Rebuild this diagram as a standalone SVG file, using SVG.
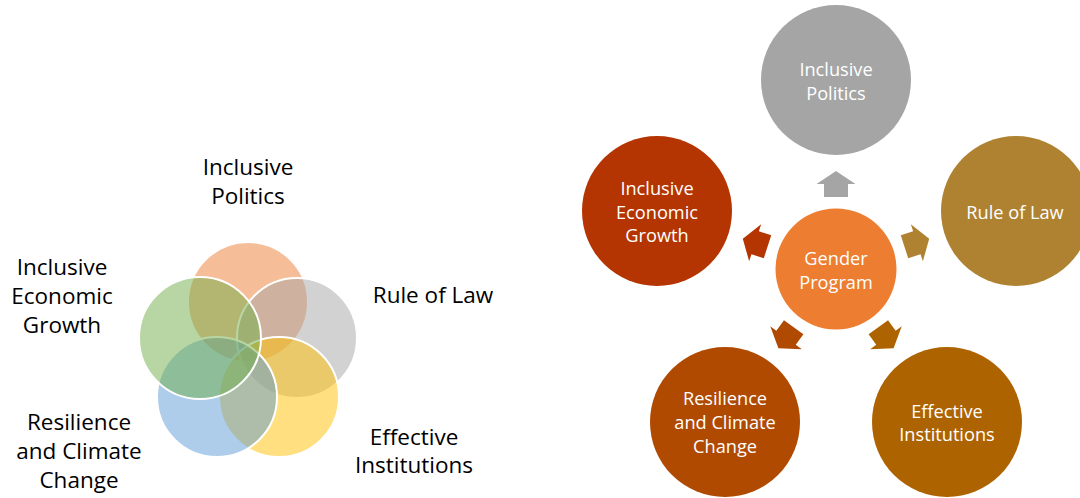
<svg xmlns="http://www.w3.org/2000/svg" width="1080" height="498" viewBox="0 0 1080 498">
  <style>
    .venn { stroke: #FFFFFF; stroke-width: 2; fill-opacity: 0.5; }
    .vlabel { font-family: "Open Sans", "Noto Sans", sans-serif; font-size: 22.5px; fill: #000000; text-anchor: middle; }
    .hub { stroke: none; }
    .wlabel { font-family: "Open Sans", "Noto Sans", sans-serif; font-size: 18.2px; fill: #FFFFFF; text-anchor: middle; }
  </style>
  <defs>
    <!-- outward block arrow, pointing up from the hub centre at (0,0) -->
    <polygon id="spoke" points="0,-98 19.5,-85 12,-85 12,-72 -12,-72 -12,-85 -19.5,-85"/>
  </defs>
  <rect width="1080" height="498" fill="#FFFFFF"/>

  <!-- Venn of the five pillars -->
  <g id="venn-politics">
    <circle class="venn" cx="248" cy="302" r="60" fill="#ED7D31"/>
    <text class="vlabel" x="248" y="175">Inclusive</text>
    <text class="vlabel" x="248" y="204">Politics</text>
  </g>
  <g id="venn-law">
    <circle class="venn" cx="297" cy="338" r="60" fill="#A5A5A5"/>
    <text class="vlabel" x="433" y="303">Rule of Law</text>
  </g>
  <g id="venn-institutions">
    <circle class="venn" cx="279" cy="397" r="60" fill="#FFC000"/>
    <text class="vlabel" x="414" y="445">Effective</text>
    <text class="vlabel" x="414" y="473">Institutions</text>
  </g>
  <g id="venn-resilience">
    <circle class="venn" cx="217" cy="397" r="60" fill="#5B9BD5"/>
    <text class="vlabel" x="79" y="430">Resilience</text>
    <text class="vlabel" x="79" y="459">and Climate</text>
    <text class="vlabel" x="79" y="488">Change</text>
  </g>
  <g id="venn-economic">
    <circle class="venn" cx="200" cy="338" r="61" fill="#70AD47"/>
    <text class="vlabel" x="62" y="275">Inclusive</text>
    <text class="vlabel" x="62" y="304">Economic</text>
    <text class="vlabel" x="62" y="333">Growth</text>
  </g>

  <!-- Radial cycle: hub and spokes -->
  <g id="connectors" transform="translate(836,269)">
    <use href="#spoke" fill="#A5A5A5" transform="rotate(0)"/>
    <use href="#spoke" fill="#AF8232" transform="rotate(72)"/>
    <use href="#spoke" fill="#AE6301" transform="rotate(144)"/>
    <use href="#spoke" fill="#B04A01" transform="rotate(216)"/>
    <use href="#spoke" fill="#B43501" transform="rotate(288)"/>
  </g>

  <g id="hub-gender">
    <circle class="hub" cx="836" cy="269" r="60.5" fill="#ED7D31"/>
    <text class="wlabel" x="836" y="265">Gender</text>
    <text class="wlabel" x="836" y="288.5">Program</text>
  </g>
  <g id="node-politics">
    <circle class="hub" cx="836" cy="80" r="75" fill="#A5A5A5"/>
    <text class="wlabel" x="836" y="76">Inclusive</text>
    <text class="wlabel" x="836" y="99.5">Politics</text>
  </g>
  <g id="node-law">
    <circle class="hub" cx="1016" cy="211" r="75" fill="#AF8232"/>
    <text class="wlabel" x="1015" y="218.5">Rule of Law</text>
  </g>
  <g id="node-institutions">
    <circle class="hub" cx="947" cy="422" r="75" fill="#AE6301"/>
    <text class="wlabel" x="947" y="417.5">Effective</text>
    <text class="wlabel" x="947" y="441">Institutions</text>
  </g>
  <g id="node-resilience">
    <circle class="hub" cx="725" cy="422" r="75" fill="#B04A01"/>
    <text class="wlabel" x="725" y="405">Resilience</text>
    <text class="wlabel" x="725" y="429">and Climate</text>
    <text class="wlabel" x="725" y="452.5">Change</text>
  </g>
  <g id="node-economic">
    <circle class="hub" cx="657" cy="211" r="75" fill="#B43501"/>
    <text class="wlabel" x="657" y="194.5">Inclusive</text>
    <text class="wlabel" x="657" y="218.5">Economic</text>
    <text class="wlabel" x="657" y="242">Growth</text>
  </g>
</svg>
